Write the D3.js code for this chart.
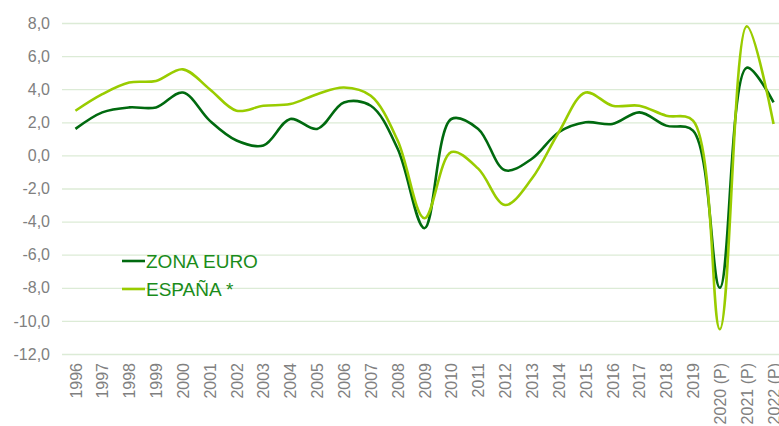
<!DOCTYPE html>
<html>
<head>
<meta charset="utf-8">
<script src="https://cdn.jsdelivr.net/npm/d3@7"></script>
<style>
  body { margin: 0; background: #fff; }
  svg { font-family: "Liberation Sans", Arial, sans-serif; }
  .grid line { stroke: #dcebd6; stroke-width: 1.3; }
  .grid .domain { display: none; }
  .axes text { fill: #808080; font-size: 16px; }
  .axes .domain, .axes line { display: none; }
</style>
</head>
<body>
<svg id="chart"></svg>
<script>
// categories (years)
var years = ["1996","1997","1998","1999","2000","2001","2002","2003","2004","2005",
             "2006","2007","2008","2009","2010","2011","2012","2013","2014","2015",
             "2016","2017","2018","2019","2020 (P)","2021 (P)","2022 (P)"];

// series values
var zonaEuro = [1.6, 2.6, 2.9, 2.9, 3.8, 2.1, 0.9, 0.6, 2.2, 1.6,
                3.2, 3.0, 0.4, -4.4, 2.2, 1.6, -0.9, -0.2, 1.4, 2.0,
                1.9, 2.6, 1.8, 1.5, -8.0, 5.3, 3.2];
var espana   = [2.7, 3.7, 4.4, 4.5, 5.2, 4.0, 2.7, 3.0, 3.1, 3.7,
                4.1, 3.6, 0.9, -3.8, 0.2, -0.8, -3.0, -1.4, 1.4, 3.8,
                3.0, 3.0, 2.4, 2.1, -10.5, 7.8, 1.9];

// y tick values
var yTicks = [8, 6, 4, 2, 0, -2, -4, -6, -8, -10, -12];

var seriesNames = ["ZONA EURO", "ESPAÑA *"];
var seriesColors = ["#006a0f", "#99cc00"];

var W = 779, H = 426;
var margin = {top: 23, left: 62};
var plotW = 725, plotH = 331;

var svg = d3.select("#chart").attr("width", W).attr("height", H);
var g = svg.append("g").attr("transform", "translate(" + margin.left + "," + margin.top + ")");

var x = d3.scalePoint().domain(years).range([0, plotW]).padding(0.5);
var y = d3.scaleLinear().domain([-12, 8]).range([plotH, 0]);

// horizontal gridlines
g.append("g")
  .attr("class", "grid")
  .call(d3.axisLeft(y).tickValues(yTicks).tickSize(-plotW).tickFormat(""));

// y axis labels
var fmt = function(d) { return d3.format(".1f")(d).replace(".", ",").replace("−", "-"); };
g.append("g")
  .attr("class", "axes")
  .call(d3.axisLeft(y).tickValues(yTicks).tickSize(0).tickPadding(12).tickFormat(fmt));

// x axis labels, rotated
g.append("g")
  .attr("class", "axes")
  .attr("transform", "translate(0," + plotH + ")")
  .call(d3.axisBottom(x).tickSize(0))
  .selectAll("text")
    .style("text-anchor", "end")
    .attr("transform", "rotate(-90)")
    .attr("x", -9)
    .attr("y", 0)
    .attr("dy", "0.35em");

// smoothed lines
var line = d3.line()
  .x(function(d, i) { return x(years[i]); })
  .y(function(d) { return y(d); })
  .curve(d3.curveCatmullRom.alpha(0.5));

[zonaEuro, espana].forEach(function(s, k) {
  g.append("path")
    .datum(s)
    .attr("fill", "none")
    .attr("stroke", seriesColors[k])
    .attr("stroke-width", 2.6)
    .attr("stroke-linejoin", "round")
    .attr("d", line);
});

// legend
var leg = svg.append("g").attr("transform", "translate(122,261)");
seriesNames.forEach(function(name, k) {
  var row = leg.append("g").attr("transform", "translate(0," + (k * 28) + ")");
  row.append("line")
    .attr("x1", 0).attr("x2", 23).attr("y1", 0).attr("y2", 0)
    .attr("stroke", seriesColors[k]).attr("stroke-width", 2.6);
  row.append("text")
    .attr("x", 24).attr("y", 0).attr("dy", "0.35em")
    .attr("fill", "#1a8c1a")
    .style("font-size", "19px")
    .text(name);
});
</script>
</body>
</html>
